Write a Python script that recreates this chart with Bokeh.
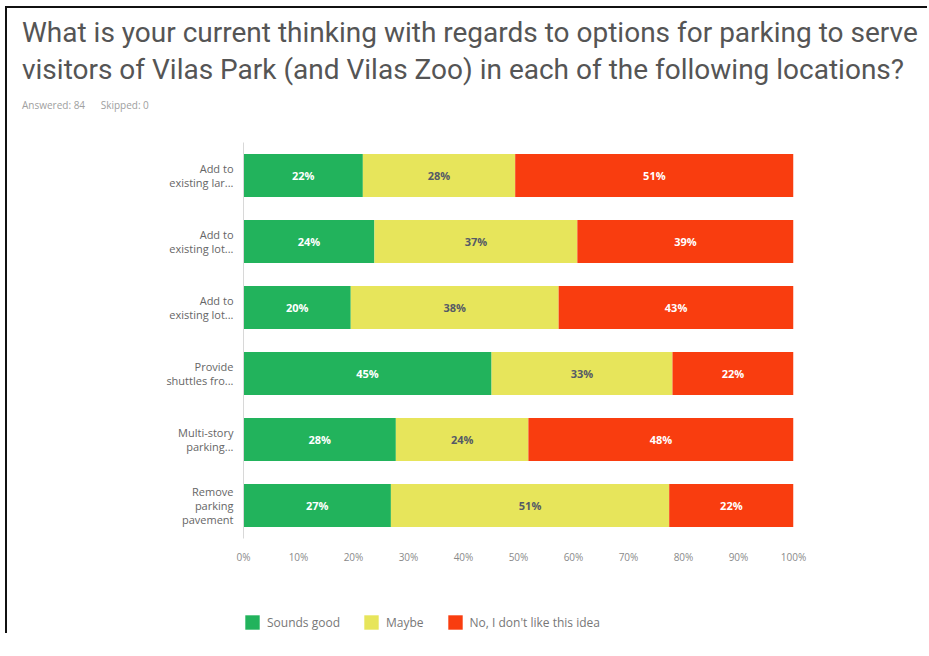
from bokeh.plotting import figure
from bokeh.models import (ColumnDataSource, FactorRange, Range1d, FixedTicker,
                          PrintfTickFormatter, Legend, LegendItem, Div, Column)
from bokeh.core.properties import value
from bokeh.embed import file_html
from bokeh.resources import INLINE

# ---------------- data ----------------
question_labels = ["Add to\nexisting lar...", "Add to\nexisting lot...", "Add to\nexisting lot...\u200b",
                   "Provide\nshuttles fro...", "Multi-story\nparking...", "Remove\nparking\npavement"]
answer_names = ["Sounds good", "Maybe", "No, I don't like this idea"]
sounds_good = [21.7, 23.8, 19.5, 45.1, 27.7, 26.8]
maybe = [27.7, 36.9, 37.8, 32.9, 24.1, 50.6]
dislike = [50.6, 39.3, 42.7, 22.0, 48.2, 22.6]
sounds_good_lbl = ["22%", "24%", "20%", "45%", "28%", "27%"]
maybe_lbl = ["28%", "37%", "38%", "33%", "24%", "51%"]
dislike_lbl = ["51%", "39%", "43%", "22%", "48%", "22%"]
x_ticks = [0, 10, 20, 30, 40, 50, 60, 70, 80, 90, 100]
colors = ["#22b35c", "#e7e55b", "#f93d0f"]

title_line1 = "What is your current thinking with regards to options for parking to serve"
title_line2 = "visitors of Vilas Park (and Vilas Zoo) in each of the following locations?"
answered_text = "Answered: 84&nbsp;&nbsp;&nbsp;&nbsp;&nbsp;&nbsp;Skipped: 0"

# ---------------- source ----------------
src = ColumnDataSource(dict(
    q=question_labels,
    good=sounds_good, maybe=maybe, no=dislike,
    good_c=[g / 2 for g in sounds_good],
    maybe_c=[g + m / 2 for g, m in zip(sounds_good, maybe)],
    no_c=[g + m + n / 2 for g, m, n in zip(sounds_good, maybe, dislike)],
    good_l=sounds_good_lbl, maybe_l=maybe_lbl, no_l=dislike_lbl,
))

p = figure(frame_width=550, frame_height=396, output_backend="svg", toolbar_location=None,
           y_range=FactorRange(*reversed(question_labels), range_padding=0),
           x_range=Range1d(0, 100),
           min_border_left=236, min_border_right=134, min_border_top=22,
           min_border_bottom=0, background_fill_color="white",
           border_fill_color="white", outline_line_color=None)

rs = p.hbar_stack(["good", "maybe", "no"], y="q", height=0.65, color=colors,
                  line_color=None, source=src)

common = dict(text_align="center", text_baseline="middle", text_font_size="11px",
              text_font=value("Open Sans"), text_font_style="bold", source=src)
p.text(x="good_c", y="q", text="good_l", text_color="white", **common)
p.text(x="maybe_c", y="q", text="maybe_l", text_color="#555a66", **common)
p.text(x="no_c", y="q", text="no_l", text_color="white", **common)

p.xgrid.visible = False
p.ygrid.visible = False

xa = p.xaxis[0]
xa.ticker = FixedTicker(ticks=x_ticks)
xa.formatter = PrintfTickFormatter(format="%d%%")
xa.axis_line_color = None
xa.major_tick_line_color = None
xa.minor_tick_line_color = None
xa.major_tick_out = 0
xa.major_label_standoff = 11
xa.major_label_text_font = "Open Sans"
xa.major_label_text_font_size = "10px"
xa.major_label_text_color = "#8a8a8a"

ya = p.yaxis[0]
ya.axis_line_color = "#d8d8d8"
ya.major_tick_line_color = None
ya.major_tick_out = 0
ya.major_label_standoff = 10
ya.major_label_text_font = "Open Sans"
ya.major_label_text_font_size = "11px"
ya.major_label_text_line_height = 0.95
ya.major_label_text_color = "#666666"

# ---------------- legend (own strip below the chart) ----------------
lg = figure(frame_width=550, frame_height=20, output_backend="svg", toolbar_location=None,
            y_range=FactorRange("legend"), x_range=Range1d(200, 300),
            x_axis_type=None, y_axis_type=None,
            min_border_left=236, min_border_right=134, min_border_top=47,
            min_border_bottom=0, background_fill_color="white",
            border_fill_color="white", outline_line_color=None)
lg.xgrid.visible = False
lg.ygrid.visible = False
lrs = lg.hbar_stack(["good", "maybe", "no"], y="q", height=0.65, color=colors,
                    line_color=None, source=src)
legend = Legend(items=[LegendItem(label=n, renderers=[r]) for n, r in zip(answer_names, lrs)],
                orientation="horizontal", location="top_left",
                glyph_width=18, glyph_height=18, label_standoff=6, spacing=22,
                padding=0, margin=0, border_line_color=None, background_fill_alpha=0,
                label_text_font="Open Sans", label_text_font_size="12px",
                label_text_color="#777777")
lg.add_layout(legend, "center")

title = Div(
    text=(f'<div style="font-family:Roboto;font-size:28px;line-height:37px;color:#555555;'
          f'white-space:nowrap;padding-left:15px;padding-top:6px;">{title_line1}<br>{title_line2}</div>'
          f'<div style="font-family:Open Sans;font-size:10px;line-height:13px;color:#a0a0a0;'
          f'padding-left:15px;margin-top:11px;">{answered_text}</div>'),
    width=920, height=112, margin=0)

page = Column(children=[title, p, lg], spacing=0, margin=(6, 0, 0, 5),
              styles={"border-left": "2px solid #111111", "border-top": "2px solid #111111"})

open("out.html", "w").write(file_html(page, INLINE))
